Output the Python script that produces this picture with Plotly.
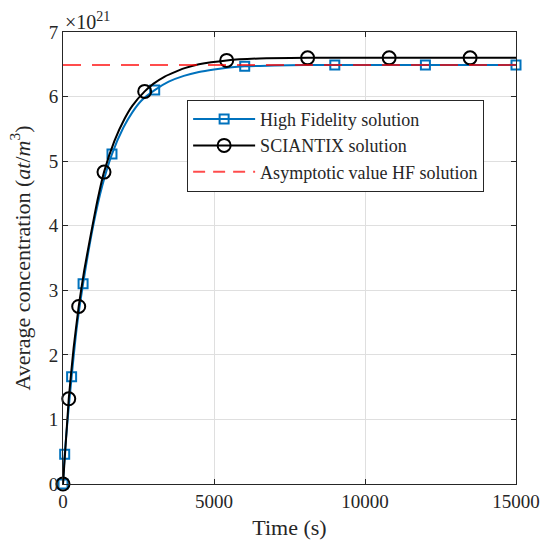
import plotly.graph_objects as go

# Values in units of 1e21 at/m^3
hf_t = [0, 56, 150, 285, 450, 665, 1000, 1300, 1622, 2000, 2300, 2600, 3036, 3500, 4000,
        4500, 5000, 5500, 6017, 7000, 8000, 9000, 12000, 15000]
hf_c = [0.0, 0.46, 0.98, 1.66, 2.40, 3.10, 4.00, 4.62, 5.11, 5.52, 5.76, 5.94, 6.10, 6.23, 6.32,
        6.38, 6.42, 6.45, 6.47, 6.48, 6.49, 6.49, 6.49, 6.49]
hf_mark_t = [0, 56, 285, 665, 1622, 3036, 6017, 9000, 12000, 15000]
hf_mark_c = [0.0, 0.46, 1.66, 3.10, 5.11, 6.10, 6.47, 6.49, 6.49, 6.49]

sc_t = [0, 190, 350, 520, 700, 900, 1100, 1358, 1700, 2043, 2300, 2705, 3000, 3368, 3600, 4030,
        4500, 5420, 6500, 8100, 10800, 13480, 15000]
sc_c = [0.0, 1.32, 2.10, 2.75, 3.30, 3.81, 4.30, 4.83, 5.31, 5.66, 5.86, 6.08, 6.20, 6.31, 6.36, 6.44,
        6.50, 6.56, 6.59, 6.60, 6.60, 6.60, 6.60]
sc_mark_t = [0, 190, 520, 1358, 2705, 5420, 8100, 10800, 13480]
sc_mark_c = [0.0, 1.32, 2.75, 4.83, 6.08, 6.56, 6.60, 6.60, 6.60]

asym_t = [0, 15000]
asym_c = [6.49, 6.49]

x_ticks = [0, 5000, 10000, 15000]
x_ticktext = ["0", "5000", "10000", "15000"]
y_ticks = [0, 1, 2, 3, 4, 5, 6, 7]

blue = "rgb(0,114,189)"
black = "rgb(0,0,0)"
red = "rgba(255,0,0,0.7)"

fig = go.Figure()
fig.add_trace(go.Scatter(x=hf_t, y=hf_c, mode="lines", line=dict(color=blue, width=2, shape="spline", smoothing=0.5),
                         showlegend=False, cliponaxis=False))
fig.add_trace(go.Scatter(x=hf_mark_t, y=hf_mark_c, mode="markers",
                         marker=dict(symbol="square-open", size=9, color=blue, line=dict(width=2, color=blue)),
                         showlegend=False, cliponaxis=False))
fig.add_trace(go.Scatter(x=sc_t, y=sc_c, mode="lines", line=dict(color=black, width=2, shape="spline", smoothing=0.5),
                         showlegend=False, cliponaxis=False))
fig.add_trace(go.Scatter(x=sc_mark_t, y=sc_mark_c, mode="markers",
                         marker=dict(symbol="circle-open", size=13, color=black, line=dict(width=2, color=black)),
                         showlegend=False, cliponaxis=False))
fig.add_trace(go.Scatter(x=asym_t, y=asym_c, mode="lines", line=dict(color=red, width=2, dash="18px,11px"),
                         showlegend=False))

# legend entries
fig.add_trace(go.Scatter(x=[None], y=[None], mode="lines+markers", name="High Fidelity solution",
                         line=dict(color=blue, width=2),
                         marker=dict(symbol="square-open", size=9, color=blue, line=dict(width=2, color=blue))))
fig.add_trace(go.Scatter(x=[None], y=[None], mode="lines+markers", name="SCIANTIX solution",
                         line=dict(color=black, width=2),
                         marker=dict(symbol="circle-open", size=13, color=black, line=dict(width=2, color=black))))
fig.add_trace(go.Scatter(x=[None], y=[None], mode="lines", name="Asymptotic value HF solution",
                         line=dict(color=red, width=2, dash="12px,8px")))

font = "Liberation Serif, Times New Roman, serif"
axis_common = dict(
    showline=True, linecolor="rgb(38,38,38)", linewidth=1, mirror="ticks",
    ticks="inside", ticklen=5, tickcolor="rgb(38,38,38)",
    showgrid=True, gridcolor="rgb(223,223,223)", gridwidth=1,
    zeroline=False, automargin=False,
    tickfont=dict(family=font, size=19, color="rgb(38,38,38)"),
)

fig.update_layout(
    width=542, height=547,
    margin=dict(l=63, r=26, t=32, b=63),
    paper_bgcolor="white", plot_bgcolor="white",
    font=dict(family=font, color="rgb(38,38,38)"),
    xaxis=dict(range=[0, 15000], tickvals=x_ticks, ticktext=x_ticktext,
               title=dict(text="Time (s)", font=dict(family=font, size=22), standoff=8),
               **axis_common),
    yaxis=dict(range=[0, 7], tickvals=y_ticks,
               title=dict(text="Average concentration (<i>at</i>/<i>m</i><sup>3</sup>)",
                          font=dict(family=font, size=22), standoff=12),
               **axis_common),
    legend=dict(x=0.274, y=0.85, xanchor="left", yanchor="top",
                bgcolor="white", bordercolor="rgb(38,38,38)", borderwidth=1,
                font=dict(family=font, size=18, color="rgb(38,38,38)"),
                itemwidth=62, tracegroupgap=0),
    annotations=[dict(text="×10<sup>21</sup>", xref="paper", yref="paper", x=0.0, y=1.0,
                      xanchor="left", yanchor="bottom", showarrow=False, yshift=-3, xshift=0,
                      font=dict(family=font, size=20, color="rgb(38,38,38)"))],
)

fig.write_html("out.html")
